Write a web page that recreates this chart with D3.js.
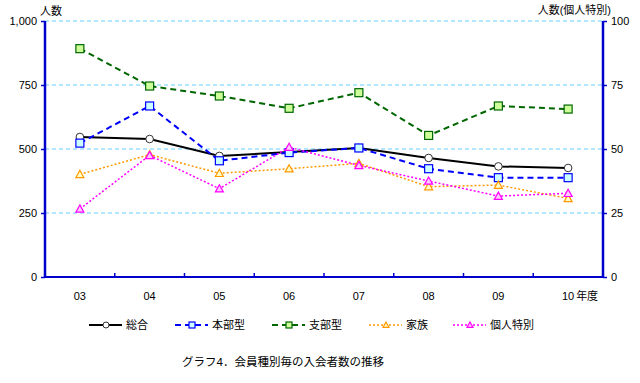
<!DOCTYPE html>
<html><head><meta charset="utf-8">
<script src="https://cdn.jsdelivr.net/npm/d3@7"></script>
<style>
body{margin:0;background:#fff;}
text{font-family:"Liberation Sans","Noto Sans CJK JP",sans-serif;}
</style></head>
<body><svg id="c" width="640" height="383"></svg>
<script>
const years = ["03","04","05","06","07","08","09","10"];
const leftTicks = [0,250,500,750,1000];
const rightTicks = [0,25,50,75,100];
const sogo   = [547,539,473,488,504,465,432,426];
const honbu  = [523,668,454,486,504,423,388,388];
const shibu  = [892,746,707,659,720,553,668,656];
const kazoku = [401,478,405,423,444,353,359,307];
const kojin  = [26.6,47.5,34.5,50.7,43.6,37.5,31.6,32.7];

const series = [
  {name:"総合", data:sogo, axis:"L", color:"#000000", fill:"#ffffff", dash:null, width:2, marker:"circle"},
  {name:"本部型", data:honbu, axis:"L", color:"#0000ff", fill:"#ccffff", dash:"6,4", width:2, marker:"square"},
  {name:"支部型", data:shibu, axis:"L", color:"#006600", fill:"#ccff99", dash:"6,4", width:2, marker:"square"},
  {name:"家族", data:kazoku, axis:"L", color:"#ff9900", fill:"#ffffcc", dash:"2,2", width:1.5, marker:"triangle"},
  {name:"個人特別", data:kojin, axis:"R", color:"#ff00ff", fill:"#ffccff", dash:"2,2", width:1.5, marker:"triangle"}
];

const svg = d3.select("#c");
const L=45, R=603, T=21, B=277;
const x = d3.scaleBand().domain(years).range([L,R]);
const yL = d3.scaleLinear().domain([0,1000]).range([B,T]);
const yR = d3.scaleLinear().domain([0,100]).range([B,T]);
const cx = d => x(d)+x.bandwidth()/2;

// grid
svg.append("g").selectAll("line").data(leftTicks.filter(d=>d>0)).join("line")
  .attr("x1",L).attr("x2",R).attr("y1",d=>yL(d)).attr("y2",d=>yL(d))
  .attr("stroke","#66ccff").attr("stroke-width",1).attr("stroke-dasharray","4,3");

// axes
const axL = d3.axisLeft(yL).tickValues(leftTicks).tickSize(4).tickFormat(d3.format(","));
const gL = svg.append("g").attr("transform",`translate(${L},0)`).call(axL);
const axR = d3.axisRight(yR).tickValues(rightTicks).tickSize(4);
const gR = svg.append("g").attr("transform",`translate(${R},0)`).call(axR);
const gB = svg.append("g").attr("transform",`translate(0,${B})`);
gB.append("line").attr("x1",L).attr("x2",R).attr("stroke","#0000cc").attr("stroke-width",2);
gB.selectAll("line.t").data(d3.range(1,years.length)).join("line").attr("class","t")
  .attr("x1",i=>L+i*x.step()).attr("x2",i=>L+i*x.step()).attr("y1",0).attr("y2",-4)
  .attr("stroke","#0000cc").attr("stroke-width",1.5);
gB.selectAll("text").data(years).join("text")
  .attr("x",d=>cx(d)).attr("y",23).attr("text-anchor","middle")
  .attr("font-size",11).attr("fill","#000").text(d=>d);
svg.append("text").attr("x",cx("10")+8).attr("y",B+23).attr("font-size",11).text("年度");

[gL,gR].forEach(g=>{
  g.select(".domain").attr("stroke","#0000cc").attr("stroke-width",2.5).attr("d",`M0,${T}V${B}`);
  g.selectAll(".tick line").attr("stroke","#0000cc").attr("stroke-width",1.5);
  g.selectAll(".tick text").attr("font-size",11).attr("fill","#000")
   .attr("font-family","Liberation Sans, sans-serif");
});
gL.selectAll(".tick text").attr("x",-8);
gR.selectAll(".tick text").attr("x",8);

svg.append("text").attr("x",40).attr("y",15).attr("font-size",11).text("人数");
svg.append("text").attr("x",611).attr("y",14).attr("font-size",11).attr("text-anchor","end").text("人数(個人特別)");

function marker(g, type, color, fill, px, py, s){
  if(type==="circle") g.append("circle").attr("cx",px).attr("cy",py).attr("r",s)
    .attr("fill",fill).attr("stroke",color==="#000000"?"#333":color).attr("stroke-width",1);
  else if(type==="square") g.append("rect").attr("x",px-s).attr("y",py-s).attr("width",2*s).attr("height",2*s)
    .attr("fill",fill).attr("stroke",color).attr("stroke-width",1.2);
  else g.append("path").attr("d",`M${px},${py-s}L${px+s},${py+s*0.8}L${px-s},${py+s*0.8}Z`)
    .attr("fill",fill).attr("stroke",color).attr("stroke-width",1.2);
}

series.forEach(s=>{
  const y = s.axis==="L"?yL:yR;
  const line = d3.line().x((d,i)=>cx(years[i])).y(d=>y(d));
  svg.append("path").datum(s.data).attr("d",line).attr("fill","none")
    .attr("stroke",s.color).attr("stroke-width",s.width)
    .attr("stroke-dasharray",s.dash);
  const g = svg.append("g");
  s.data.forEach((d,i)=>marker(g,s.marker,s.color,s.fill,cx(years[i]),y(d),s.marker==="circle"?3.8:4));
});

// legend
const legX = [89,175,272,369,453];
const legY = 325;
series.forEach((s,i)=>{
  const g = svg.append("g");
  const x0 = legX[i];
  g.append("line").attr("x1",x0).attr("x2",x0+33).attr("y1",legY).attr("y2",legY)
    .attr("stroke",s.color).attr("stroke-width",s.width).attr("stroke-dasharray",s.dash);
  marker(g,s.marker,s.color,s.fill,x0+17,legY,3);
  g.append("text").attr("x",x0+37).attr("y",legY+4).attr("font-size",11).text(s.name);
});

svg.append("text").attr("x",182).attr("y",366).attr("font-size",11.5).text("グラフ4．会員種別毎の入会者数の推移");
</script></body></html>
